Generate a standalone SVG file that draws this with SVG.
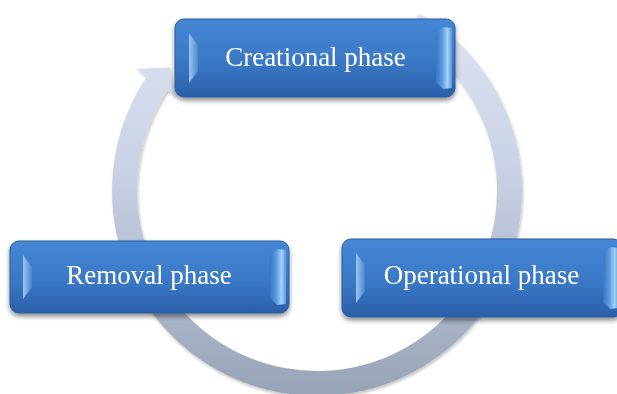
<svg xmlns="http://www.w3.org/2000/svg" width="617" height="394" viewBox="0 0 617 394">
  <style>
    .box { fill: url(#boxFill); stroke: #2c5c9c; stroke-width: 1; }
    .bevel-l { fill: url(#bevelLeft); filter: url(#soft); }
    .bevel-r { fill: url(#bevelRight); filter: url(#soft); }
    .label { font-family: "Liberation Serif", "Times New Roman", serif; font-size: 27px; fill: #ffffff; text-anchor: middle; }
    .ring { fill: url(#ringFill); }
  </style>
  <defs>
    <linearGradient id="boxFill" x1="0" y1="0" x2="0" y2="1">
      <stop offset="0" stop-color="#4587d6"/>
      <stop offset="0.55" stop-color="#3a78c5"/>
      <stop offset="1" stop-color="#2a5fa9"/>
    </linearGradient>
    <linearGradient id="bevelLeft" x1="0" y1="0" x2="1" y2="0">
      <stop offset="0" stop-color="#9fc4ef"/>
      <stop offset="1" stop-color="#4a86d0"/>
    </linearGradient>
    <linearGradient id="bevelRight" x1="0" y1="0" x2="1" y2="0">
      <stop offset="0" stop-color="#3a76c2"/>
      <stop offset="0.4" stop-color="#5c9be2"/>
      <stop offset="0.72" stop-color="#a3d1fa"/>
      <stop offset="1" stop-color="#5b97dc"/>
    </linearGradient>
    <linearGradient id="ringFill" gradientUnits="userSpaceOnUse" x1="0" y1="-14" x2="0" y2="396">
      <stop offset="0" stop-color="#e0e7f5"/>
      <stop offset="0.45" stop-color="#c9d2e4"/>
      <stop offset="1" stop-color="#98a3b5"/>
    </linearGradient>
    <filter id="soft" x="-30%" y="-10%" width="160%" height="120%">
      <feGaussianBlur stdDeviation="0.7"/>
    </filter>
    <filter id="shadow" x="-10%" y="-20%" width="120%" height="150%">
      <feGaussianBlur in="SourceAlpha" stdDeviation="2.5"/>
      <feOffset dx="0" dy="3" result="blur"/>
      <feComponentTransfer>
        <feFuncA type="linear" slope="0.45"/>
      </feComponentTransfer>
      <feMerge>
        <feMergeNode/>
        <feMergeNode in="SourceGraphic"/>
      </feMerge>
    </filter>
    <filter id="ringShadow" x="-10%" y="-10%" width="120%" height="120%">
      <feGaussianBlur in="SourceAlpha" stdDeviation="1.5"/>
      <feOffset dx="1" dy="1.5"/>
      <feComponentTransfer>
        <feFuncA type="linear" slope="0.25"/>
      </feComponentTransfer>
      <feMerge>
        <feMergeNode/>
        <feMergeNode in="SourceGraphic"/>
      </feMerge>
    </filter>
  </defs>

  <!-- circular arrow running clockwise behind the three phase boxes -->
  <g id="connectors">
    <path class="ring" filter="url(#ringShadow)"
      d="M419.5,13.46 A205,205 0 1 1 147.05,76.36 L136.28,69.09 L169.54,67.26 L176.07,95.94 L167.78,90.34 A180,180 0 1 0 407,35.12 Z"/>
  </g>

  <g id="creational" transform="translate(175,19)" filter="url(#shadow)">
    <rect class="box" x="0" y="0" width="280" height="78" rx="9"/>
    <path class="bevel-l" d="M14,14 L23,26 L23,52 L14,64 Z"/>
    <path class="bevel-r" d="M261,15 L268,8 L277,9 L277,69 L268,70 L261,63 Z"/>
    <text class="label" x="140.5" y="47">Creational phase</text>
  </g>

  <g id="removal" transform="translate(10,241)" filter="url(#shadow)">
    <rect class="box" x="0" y="0" width="279" height="72" rx="9"/>
    <path class="bevel-l" d="M13,14 L22,26 L22,46 L13,58 Z"/>
    <path class="bevel-r" d="M260,15 L267,8 L276,9 L276,63 L267,64 L260,57 Z"/>
    <text class="label" x="139" y="43">Removal phase</text>
  </g>

  <g id="operational" transform="translate(342,239)" filter="url(#shadow)">
    <rect class="box" x="0" y="0" width="280" height="78" rx="9"/>
    <path class="bevel-l" d="M14,14 L23,26 L23,52 L14,64 Z"/>
    <path class="bevel-r" d="M261,15 L268,8 L277,9 L277,69 L268,70 L261,63 Z"/>
    <text class="label" x="139.5" y="45">Operational phase</text>
  </g>
</svg>
